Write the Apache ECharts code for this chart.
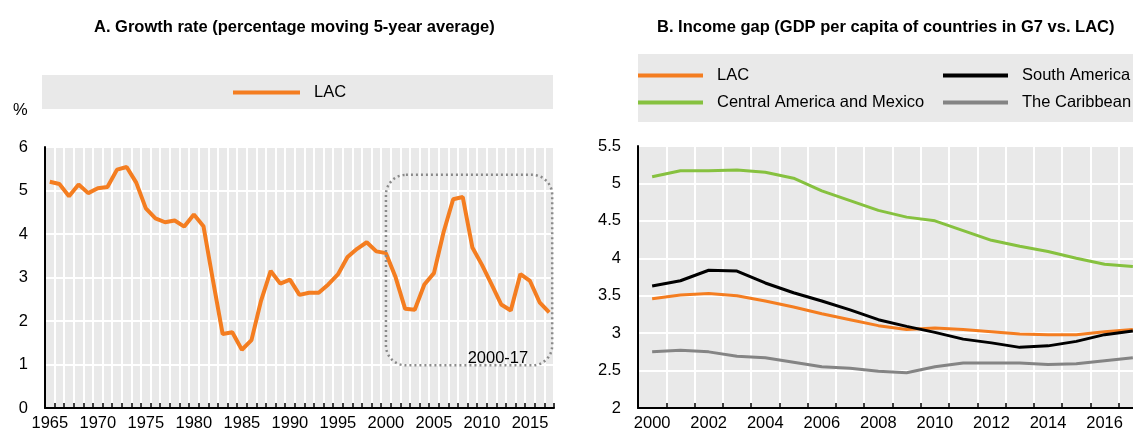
<!DOCTYPE html>
<html lang="en" style="height: 100%">
<head>
  <meta charset="utf-8">
</head>
<body style="height: 100%; margin: 0; background: #fff">
  <div id="container" style="width: 1133px; height: 433px"></div>

  <script type="text/javascript" src="https://cdn.jsdelivr.net/npm/echarts@6/dist/echarts.min.js"></script>

  <script type="text/javascript">
    // Panel A: growth rate, moving 5-year average (%)
    const yearsA = ['1965', '1966', '1967', '1968', '1969', '1970', '1971', '1972', '1973', '1974',
      '1975', '1976', '1977', '1978', '1979', '1980', '1981', '1982', '1983', '1984',
      '1985', '1986', '1987', '1988', '1989', '1990', '1991', '1992', '1993', '1994',
      '1995', '1996', '1997', '1998', '1999', '2000', '2001', '2002', '2003', '2004',
      '2005', '2006', '2007', '2008', '2009', '2010', '2011', '2012', '2013', '2014',
      '2015', '2016', '2017'];
    const growthLAC = [5.20, 5.15, 4.87, 5.14, 4.94, 5.05, 5.08, 5.48, 5.54, 5.18,
      4.59, 4.36, 4.27, 4.31, 4.17, 4.45, 4.18, 2.92, 1.70, 1.74,
      1.34, 1.56, 2.47, 3.15, 2.86, 2.95, 2.60, 2.65, 2.65, 2.84,
      3.07, 3.47, 3.66, 3.81, 3.60, 3.56, 3.01, 2.28, 2.26, 2.84,
      3.10, 4.04, 4.80, 4.85, 3.69, 3.29, 2.84, 2.38, 2.24, 3.08,
      2.92, 2.43, 2.20];
    // highlighted period box (category range and value range)
    const boxYears = ['2000', '2017'];
    const boxValues = [0.98, 5.36];
    const boxLabel = '2000-17';

    // Panel B: income gap, GDP per capita G7 vs LAC
    const yearsB = ['2000', '2001', '2002', '2003', '2004', '2005', '2006', '2007', '2008',
      '2009', '2010', '2011', '2012', '2013', '2014', '2015', '2016', '2017'];
    const gapLAC = [3.46, 3.51, 3.53, 3.50, 3.43, 3.35, 3.26, 3.18, 3.10,
      3.05, 3.07, 3.05, 3.02, 2.99, 2.98, 2.98, 3.02, 3.05];
    const gapCAM = [5.09, 5.17, 5.17, 5.18, 5.15, 5.07, 4.90, 4.77, 4.64,
      4.55, 4.50, 4.37, 4.24, 4.16, 4.09, 4.00, 3.92, 3.89];
    const gapSAM = [3.63, 3.70, 3.84, 3.83, 3.67, 3.54, 3.43, 3.31, 3.18,
      3.09, 3.01, 2.92, 2.87, 2.81, 2.83, 2.89, 2.98, 3.03];
    const gapCAR = [2.75, 2.77, 2.75, 2.69, 2.67, 2.61, 2.55, 2.53, 2.49,
      2.47, 2.55, 2.60, 2.60, 2.60, 2.58, 2.59, 2.63, 2.67];

    const FONT = "'Liberation Sans', Arial, sans-serif";
    const ORANGE = '#f47d20';
    const GREEN = '#86c13f';
    const BLACK = '#000000';
    const GREY = '#848484';
    const PANEL = '#e9e9e9';

    var dom = document.getElementById('container');
    var myChart = echarts.init(dom, null, { renderer: 'canvas' });

    function catAxis(gridIndex, data, labelInterval) {
      return {
        type: 'category',
        gridIndex: gridIndex,
        data: data,
        boundaryGap: true,
        axisLine: { lineStyle: { color: '#000', width: 2 } },
        axisTick: { show: true, inside: true, length: 5, interval: 0, lineStyle: { color: '#000', width: 1.5 } },
        axisLabel: { interval: labelInterval, color: '#000', fontFamily: FONT, fontSize: 16.5, margin: 7 },
        splitLine: { show: true, interval: 0, lineStyle: { color: '#fff', width: 2 } }
      };
    }

    function valAxis(gridIndex, min, max, interval) {
      return {
        type: 'value',
        gridIndex: gridIndex,
        min: min,
        max: max,
        interval: interval,
        axisLine: { show: true, lineStyle: { color: '#000', width: 2 } },
        axisTick: { show: false },
        axisLabel: { color: '#000', fontFamily: FONT, fontSize: 16.5, margin: 17 },
        splitLine: { show: true, lineStyle: { color: '#fff', width: 2 } }
      };
    }

    const legendText = { color: '#000', fontFamily: FONT, fontSize: 16.5, padding: [0, 0, 0, 9] };

    function lineB(name, data, color) {
      return {
        name: name, type: 'line', xAxisIndex: 1, yAxisIndex: 1, data: data,
        color: color, showSymbol: false, lineStyle: { width: 3 }
      };
    }

    var option = {
      animation: false,
      title: [
        {
          text: 'A. Growth rate (percentage moving 5-year average)',
          left: 89, top: 14,
          textStyle: { fontFamily: FONT, fontWeight: 'bold', fontSize: 16.5, color: '#000' }
        },
        {
          text: 'B. Income gap (GDP per capita of countries in G7 vs. LAC)',
          left: 652, top: 14,
          textStyle: { fontFamily: FONT, fontWeight: 'bold', fontSize: 16.5, color: '#000' }
        }
      ],
      legend: [
        {
          data: ['LAC'], left: 233, top: 84, padding: 0,
          icon: 'rect', itemWidth: 67, itemHeight: 4, textStyle: legendText
        },
        {
          data: ['LAC', 'Central America and Mexico'], orient: 'vertical', left: 638, top: 67, padding: 0,
          itemGap: 10, icon: 'rect', itemWidth: 65, itemHeight: 4, textStyle: legendText
        },
        {
          data: ['South America', 'The Caribbean'], orient: 'vertical', left: 943, top: 67, padding: 0,
          itemGap: 10, icon: 'rect', itemWidth: 65, itemHeight: 4, textStyle: legendText
        }
      ],
      grid: [
        {
          left: 45, top: 147, width: 509, bottom: 25, outerBoundsMode: 'none',
          show: true, backgroundColor: PANEL, borderWidth: 0
        },
        {
          // the panel runs past the right edge of the picture, as in the source
          left: 638, top: 146, width: 509, bottom: 25, outerBoundsMode: 'none',
          show: true, backgroundColor: PANEL, borderWidth: 0
        }
      ],
      xAxis: [catAxis(0, yearsA, 4), catAxis(1, yearsB, 1)],
      yAxis: [valAxis(0, 0, 6, 1), valAxis(1, 2, 5.5, 0.5)],
      series: [
        {
          name: 'LAC', type: 'line', xAxisIndex: 0, yAxisIndex: 0, data: growthLAC,
          color: ORANGE, showSymbol: false, lineStyle: { width: 4 }
        },
        lineB('LAC', gapLAC, ORANGE),
        lineB('Central America and Mexico', gapCAM, GREEN),
        lineB('South America', gapSAM, BLACK),
        lineB('The Caribbean', gapCAR, GREY)
      ]
    };

    myChart.setOption(option);

    // grey legend panels, the % unit and the dotted 2000-17 box
    const p1 = myChart.convertToPixel({ gridIndex: 0 }, [boxYears[0], boxValues[1]]);
    const p2 = myChart.convertToPixel({ gridIndex: 0 }, [boxYears[1], boxValues[0]]);
    const bx = p1[0], by = p1[1], bw = p2[0] - p1[0] + 3, bh = p2[1] - p1[1];

    myChart.setOption({
      graphic: [
        { type: 'rect', z: -10, shape: { x: 42, y: 75, width: 511, height: 34 }, style: { fill: PANEL } },
        { type: 'rect', z: -10, shape: { x: 638, y: 54, width: 495, height: 68 }, style: { fill: PANEL } },
        { type: 'text', x: 13, y: 102, style: { text: '%', font: '16.5px ' + FONT, fill: '#000' } },
        {
          type: 'rect', z: 50, silent: true,
          shape: { x: bx, y: by, width: bw, height: bh, r: 20 },
          style: { fill: null, stroke: '#8a8a8a', lineWidth: 2.5, lineDash: [2, 3] }
        },
        {
          type: 'text', z: 51, x: bx + bw - 24, y: by + bh - 7,
          style: { text: boxLabel, font: '16.5px ' + FONT, fill: '#000', align: 'right', verticalAlign: 'middle' }
        }
      ]
    });

    window.addEventListener('resize', myChart.resize);
  </script>
</body>
</html>
